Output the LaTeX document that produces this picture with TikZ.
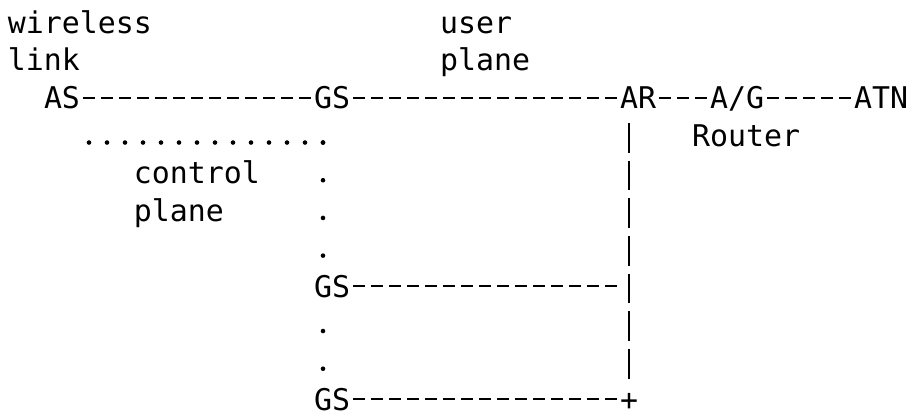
\documentclass[tikz,border=0pt]{standalone}
\usepackage{fontspec}
\newfontfamily\asciimono{DejaVu Sans Mono}
\usetikzlibrary{calc}
\tikzset{
	lbl/.style={font=\asciimono\fontsize{14.95pt}{18pt}\selectfont, inner sep=0pt, outer sep=0pt, text height=11pt, text depth=0.1pt, anchor=west},
	hdash/.style={line width=1.1pt, dash pattern=on 6pt off 3pt, dash phase=7.5pt},
	vbar/.style={line width=1.2pt, dash pattern=on 14.8pt off 4.05pt},
	hdots/.style={line width=2.3pt, line cap=round, dash pattern=on 0pt off 9pt},
	vdots/.style={line width=2.3pt, line cap=round, dash pattern=on 0pt off 18.85pt},
}

\begin{document}
\begin{tikzpicture}[x=9pt, y=-18.85pt]
		\useasboundingbox (-0.4444,-0.59) rectangle (50.2222,10.312);
		\node[lbl] (wl1) at (0,0) {wireless};
		\node[lbl] (wl2) at (0,1) {link};
		\node[lbl] (up1) at (24,0) {user};
		\node[lbl] (up2) at (24,1) {plane};
		\node[lbl] (as) at (2,2) {AS};
		\node[lbl] (gs1) at (17,2) {GS};
		\node[lbl] (ar) at (34,2) {AR};
		\node[lbl] (ag) at (39,2) {A/G};
		\node[lbl] (atn) at (47,2) {ATN};
		\node[lbl] (rtr) at (38,3) {Router};
		\node[lbl] (cp1) at (7,4) {control};
		\node[lbl] (cp2) at (7,5) {plane};
		\node[lbl] (gs2) at (17,7) {GS};
		\node[lbl] (gs3) at (17,10) {GS};
		\node[lbl] (plus) at (34,10) {+};
		\coordinate (cpfrom) at (4.5,3.191);
		\coordinate (cpcorner) at (17.5,3.191);
		\draw[hdash] (as) -- (gs1);
		\draw[hdash] (gs1) -- (ar);
		\draw[hdash] (ar) -- (ag);
		\draw[hdash] (ag) -- (atn);
		\draw[hdash] (gs2.east) -- (gs2.east -| plus.west);
		\draw[hdash] (gs3) -- (plus);
		\draw[vbar, shorten <=7.1pt, shorten >=1pt] (ar.south -| plus) -- (plus);
		\draw[hdots] (cpfrom) -- (cpcorner);
		\draw[vdots] (cpcorner) -- (cpcorner |- gs2.north);
		\draw[vdots, dash phase=1.95pt] (cpcorner |- gs2.south) -- (cpcorner |- gs3.north);
	\end{tikzpicture}
\end{document}
